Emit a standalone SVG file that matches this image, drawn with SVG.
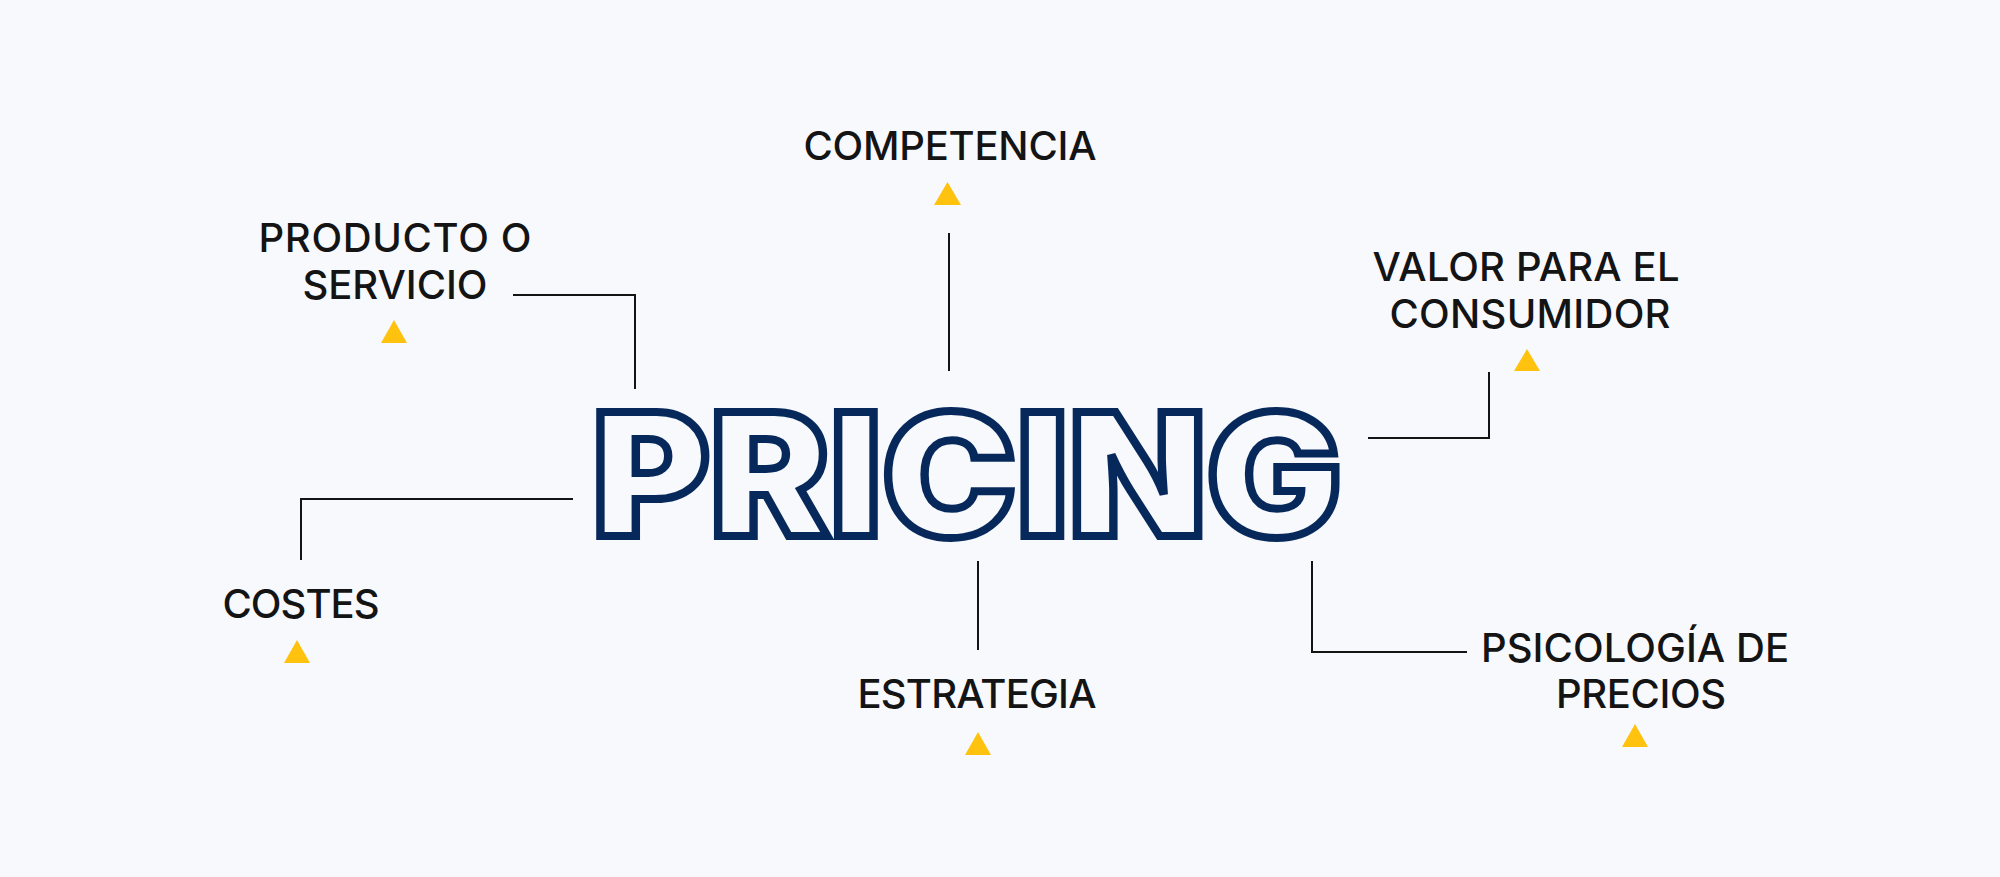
<svg xmlns="http://www.w3.org/2000/svg" width="2000" height="877" viewBox="0 0 2000 877">
  <style>
    .lbl { font-family: "Inter", "Liberation Sans", sans-serif; font-size: 40px; font-weight: 500; fill: #141414; text-anchor: middle; }
    .tri { fill: #FFC20E; }
    .conn { fill: none; stroke: #141414; stroke-width: 2; }
    .title { font-family: "Inter", "Liberation Sans", sans-serif; font-size: 170px; font-weight: 900; fill: #F8F9FD; stroke: #06285A; stroke-width: 8; stroke-linejoin: miter; }
  </style>
  <rect x="0" y="0" width="2000" height="877" fill="#F8F9FD"/>

  <g id="connectors">
    <polyline class="conn" points="513,295 635,295 635,389"/>
    <line class="conn" x1="949" y1="233" x2="949" y2="371"/>
    <polyline class="conn" points="1368,438 1489,438 1489,372"/>
    <polyline class="conn" points="573,499 301,499 301,560"/>
    <line class="conn" x1="978" y1="561" x2="978" y2="650"/>
    <polyline class="conn" points="1312,561 1312,652 1467,652"/>
  </g>

  <g id="pricing">
    <text class="title" x="592" y="536" textLength="750" lengthAdjust="spacingAndGlyphs">PRICING</text>
  </g>

  <g id="competencia">
    <text class="lbl" x="950" y="160" textLength="293" lengthAdjust="spacing">COMPETENCIA</text>
    <polygon class="tri" points="934,205 961,205 947.5,182"/>
  </g>

  <g id="producto">
    <text class="lbl" x="395" y="252" textLength="273" lengthAdjust="spacing">PRODUCTO O</text>
    <text class="lbl" x="395" y="299" textLength="185" lengthAdjust="spacing">SERVICIO</text>
    <polygon class="tri" points="381,343 407,343 394,320"/>
  </g>

  <g id="valor">
    <text class="lbl" x="1526" y="281" textLength="307" lengthAdjust="spacing">VALOR PARA EL</text>
    <text class="lbl" x="1530" y="328" textLength="281" lengthAdjust="spacing">CONSUMIDOR</text>
    <polygon class="tri" points="1514,371 1540,371 1527,349"/>
  </g>

  <g id="costes">
    <text class="lbl" x="301" y="618" textLength="157" lengthAdjust="spacing">COSTES</text>
    <polygon class="tri" points="284,663 310,663 297,640"/>
  </g>

  <g id="estrategia">
    <text class="lbl" x="977" y="708" textLength="239" lengthAdjust="spacing">ESTRATEGIA</text>
    <polygon class="tri" points="965,755 991,755 978,732"/>
  </g>

  <g id="psicologia">
    <text class="lbl" x="1635" y="662" textLength="308" lengthAdjust="spacing">PSICOLOGÍA DE</text>
    <text class="lbl" x="1641" y="708" textLength="170" lengthAdjust="spacing">PRECIOS</text>
    <polygon class="tri" points="1622,747 1648,747 1635,724"/>
  </g>
</svg>
